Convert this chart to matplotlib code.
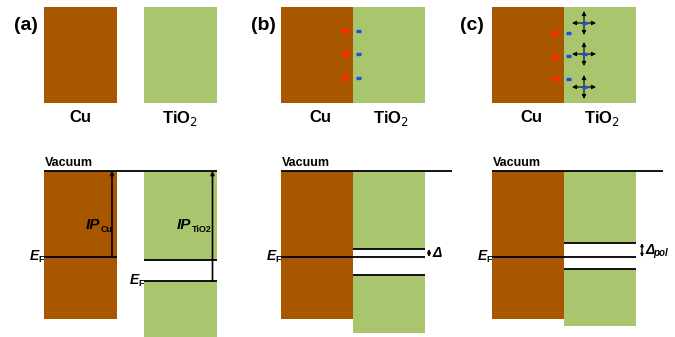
import matplotlib
matplotlib.use("Agg")
import matplotlib.pyplot as plt
from matplotlib.patches import Rectangle

plt.rcParams['font.family'] = ['Liberation Sans', 'DejaVu Sans']

CU_COLOR = '#A85700'
TIO2_COLOR = '#A9C56E'
PLUS_COLOR = '#FF2A00'
MINUS_COLOR = '#1A4FE0'

# Panel labels and the material names under each block
panel_labels = ['(a)', '(b)', '(c)']
materials = ['Cu', 'TiO$_2$']

# Level positions of the band diagrams (drawing units, y grows downward)
vacuum_level = 171
cu_fermi = 257
cu_bottom = 319
tio2_fermi_isolated = 281          # (a) TiO2 Fermi level before contact
tio2_gap_top = [260, 249, 243]     # upper TiO2 band edge in (a), (b), (c)
tio2_gap_bottom = [281, 275, 269]  # lower TiO2 band edge in (a), (b), (c)
tio2_bottom = [337, 333, 326]

# Horizontal extents of the blocks in each panel
cu_x = [(44, 117), (281, 353), (492, 564)]
tio2_x = [(144, 217), (353, 425), (564, 636)]
vacuum_x = [(44, 217), (281, 452), (492, 663)]
panel_label_x = [26, 263, 472]

# Interface charges (b), (c) and dipole centres in (c)
charge_rows_b = [31, 54, 78]
charge_rows_c_plus = [33, 57, 79]
charge_rows_c_minus = [33, 56, 79]
dipole_rows = [23, 54, 87]

fig = plt.figure(figsize=(6.75, 3.37), dpi=100)
ax = fig.add_axes([0, 0, 1, 1])
ax.set_xlim(0, 675)
ax.set_ylim(337, 0)
ax.axis('off')

top_y0, top_y1 = 7, 103
bold = dict(fontweight='bold', color='black')


def block(x0, x1, y0, y1, color):
    ax.add_patch(Rectangle((x0, y0), x1 - x0, y1 - y0, facecolor=color,
                           edgecolor='none'))


def hline(y, x0, x1, lw=1.3):
    ax.plot([x0, x1], [y, y], color='black', lw=lw, solid_capstyle='butt')


def plus(x, y, half=4.5):
    ax.plot([x - half, x + half], [y, y], color=PLUS_COLOR, lw=1.7,
            solid_capstyle='butt', zorder=4)
    ax.plot([x, x], [y - half, y + half], color=PLUS_COLOR, lw=1.7,
            solid_capstyle='butt', zorder=4)


def minus(x, y):
    ax.plot([x - 2.5, x + 2.5], [y, y], color=MINUS_COLOR, lw=2.4,
            solid_capstyle='butt', zorder=5)


def ef_label(x_right, y):
    ax.text(x_right - 5, y - 1, 'E', fontsize=10, fontstyle='italic',
            ha='right', va='center', **bold)
    ax.text(x_right - 0.5, y + 3, 'F', fontsize=6.5, ha='right',
            va='center', **bold)


# ---- top row: the two materials ----
for i in range(3):
    cx0, cx1 = cu_x[i]
    tx0, tx1 = tio2_x[i]
    block(cx0, cx1, top_y0, top_y1, CU_COLOR)
    block(tx0, tx1, top_y0, top_y1, TIO2_COLOR)
    ax.text(panel_label_x[i], 25, panel_labels[i], fontsize=14,
            ha='center', va='center', **bold)
    ax.text((cx0 + cx1) / 2 + (0 if i == 0 else 3), 118, materials[0],
            fontsize=12, ha='center', va='center', **bold)
    ax.text((tx0 + tx1) / 2 + (0 if i == 0 else 2), 118, materials[1],
            fontsize=12, ha='center', va='center', **bold)

# interface charges in (b)
for y in charge_rows_b:
    plus(345.5, y)
    minus(358.7, y)

# interface charges and polarisation dipoles in (c)
for yp, ym in zip(charge_rows_c_plus, charge_rows_c_minus):
    plus(555, yp)
    minus(568.5, ym)
for y in dipole_rows:
    cx = 584
    for dx, dy in [(12, 0), (-12, 0), (0, 12), (0, -12)]:
        ax.annotate('', xy=(cx + dx, y + dy), xytext=(cx, y),
                    arrowprops=dict(arrowstyle='-|>', lw=0.8, color='black',
                                    mutation_scale=6, shrinkA=0, shrinkB=0))
    minus(cx, y)

# ---- bottom row: band diagrams ----
for i in range(3):
    cx0, cx1 = cu_x[i]
    tx0, tx1 = tio2_x[i]
    block(cx0, cx1, vacuum_level, cu_bottom, CU_COLOR)
    block(tx0, tx1, vacuum_level, tio2_gap_top[i], TIO2_COLOR)
    block(tx0, tx1, tio2_gap_bottom[i], tio2_bottom[i], TIO2_COLOR)
    hline(vacuum_level, *vacuum_x[i])
    ax.text(vacuum_x[i][0] + 1, 163, 'Vacuum', fontsize=9, ha='left',
            va='center', **bold)
    hline(tio2_gap_top[i], tx0, tx1)
    hline(tio2_gap_bottom[i], tx0, tx1)

# (a) separate materials: Fermi levels and ionisation potentials
hline(cu_fermi, *cu_x[0])
ef_label(cu_x[0][0], cu_fermi)
ef_label(tio2_x[0][0], tio2_fermi_isolated)
for x, y0 in [(112, cu_fermi), (212.5, tio2_fermi_isolated)]:
    ax.annotate('', xy=(x, vacuum_level), xytext=(x, y0),
                arrowprops=dict(arrowstyle='-|>', lw=1.2, color='black',
                                mutation_scale=5, shrinkA=0, shrinkB=0))
ax.text(100, 225, 'IP', fontsize=11, fontstyle='italic', ha='right',
        va='center', **bold)
ax.text(100.5, 229, 'Cu', fontsize=6.5, ha='left', va='center', **bold)
ax.text(191.5, 225, 'IP', fontsize=11, fontstyle='italic', ha='right',
        va='center', **bold)
ax.text(192, 229, 'TiO2', fontsize=6.5, ha='left', va='center', **bold)

# (b), (c) in contact: common Fermi level and the gap offset
delta_labels = [('Δ', None), ('Δ', 'pol')]
for k, i in enumerate([1, 2]):
    hline(cu_fermi, cu_x[i][0], tio2_x[i][1])
    ef_label(cu_x[i][0], cu_fermi)
    xa = tio2_x[i][1] + (4 if i == 1 else 6)
    ax.annotate('', xy=(xa, tio2_gap_top[i]), xytext=(xa, cu_fermi),
                arrowprops=dict(arrowstyle='<|-|>', lw=1.0, color='black',
                                mutation_scale=4, shrinkA=0, shrinkB=0))
    main, sub = delta_labels[k]
    ymid = (tio2_gap_top[i] + cu_fermi) / 2
    ax.text(xa + 3, ymid, main, fontsize=10, fontstyle='italic', ha='left',
            va='center', **bold)
    if sub:
        ax.text(xa + 11, ymid + 3, sub, fontsize=7, fontstyle='italic',
                ha='left', va='center', **bold)

fig.savefig('out.png', dpi=100)
